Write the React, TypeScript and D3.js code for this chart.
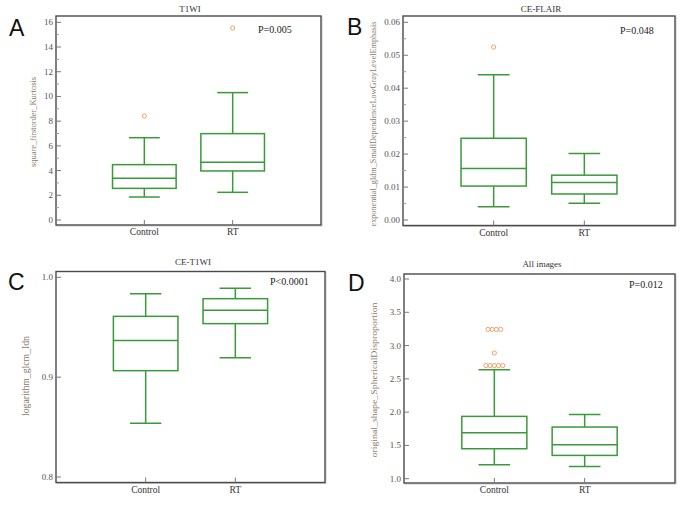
import React from "react";
import * as d3 from "d3";

// ---------- data ----------
const categories = ["Control", "RT"];

// [min whisker, Q1, median, Q3, max whisker]
const t1wiControl = [1.86, 2.56, 3.37, 4.48, 6.66];
const t1wiRT = [2.24, 3.97, 4.67, 6.99, 10.31];
const t1wiControlOutliers = [8.42];
const t1wiRTOutliers = [15.54];
const t1wiTicks = [0, 2, 4, 6, 8, 10, 12, 14, 16];
const t1wiMinor = [1, 3, 5, 7, 9, 11, 13, 15];

const flairControl = [0.0040, 0.0103, 0.0156, 0.0248, 0.0441];
const flairRT = [0.0051, 0.0079, 0.0114, 0.0136, 0.0202];
const flairControlOutliers = [0.0525];
const flairRTOutliers: number[] = [];
const flairTicks = [0, 0.01, 0.02, 0.03, 0.04, 0.05, 0.06];
const flairMinor = [0.005, 0.015, 0.025, 0.035, 0.045, 0.055];

const ceT1Control = [0.8538, 0.9065, 0.9366, 0.9609, 0.9836];
const ceT1RT = [0.9195, 0.9536, 0.9669, 0.9786, 0.989];
const ceT1ControlOutliers: number[] = [];
const ceT1RTOutliers: number[] = [];
const ceT1Ticks = [0.8, 0.9, 1.0];
const ceT1Minor: number[] = [];

const allControl = [1.21, 1.45, 1.69, 1.936, 2.637];
const allRT = [1.185, 1.35, 1.51, 1.776, 1.966];
const allControlOutliers = [2.7, 2.7, 2.7, 2.7, 2.7, 2.888, 3.243, 3.243, 3.243, 3.243];
const allRTOutliers: number[] = [];
const allTicks = [1.0, 1.5, 2.0, 2.5, 3.0, 3.5, 4.0];
const allMinor: number[] = [];

type PanelSpec = {
  letter: string;
  title: string;
  ylabel: string;
  ylabelLen: number;
  ylabelSize: number;
  p: string;
  fl: number; fr: number; ft: number; fb: number; // frame
  domain: [number, number];
  yr: [number, number];
  ticks: number[];
  minor: number[];
  fmt: (v: number) => string;
  boxes: number[][];
  outliers: number[][];
  titleX: number; titleY: number;
  pX: number; pY: number;
  labX: number; labY: number;
  letX: number; letY: number;
};

const panels: PanelSpec[] = [
  {
    letter: "A", title: "T1WI", ylabel: "square_firstorder_Kurtosis", ylabelLen: 90, ylabelSize: 8.5,
    p: "P=0.005", fl: 56, fr: 321, ft: 16, fb: 225, domain: [0, 16], yr: [220, 22.3],
    ticks: t1wiTicks, minor: t1wiMinor, fmt: d3.format("d"),
    boxes: [t1wiControl, t1wiRT], outliers: [t1wiControlOutliers, t1wiRTOutliers],
    titleX: 190, titleY: 12, pX: 258, pY: 33, labX: 36, labY: 122, letX: 9, letY: 36,
  },
  {
    letter: "B", title: "CE-FLAIR", ylabel: "exponential_gldm_SmallDependenceLowGrayLevelEmphasis", ylabelLen: 205, ylabelSize: 8.5,
    p: "P=0.048", fl: 403, fr: 675, ft: 16, fb: 225.5, domain: [0, 0.06], yr: [220, 22.3],
    ticks: flairTicks, minor: flairMinor, fmt: d3.format(".2f"),
    boxes: [flairControl, flairRT], outliers: [flairControlOutliers, flairRTOutliers],
    titleX: 541, titleY: 12, pX: 620, pY: 34, labX: 376, labY: 124, letX: 347, letY: 35,
  },
  {
    letter: "C", title: "CE-T1WI", ylabel: "logarithm_glcm_Idn", ylabelLen: 80, ylabelSize: 9.5,
    p: "P<0.0001", fl: 56, fr: 325, ft: 271.5, fb: 482.5, domain: [0.8, 1.0], yr: [477, 277.3],
    ticks: ceT1Ticks, minor: ceT1Minor, fmt: d3.format(".1f"),
    boxes: [ceT1Control, ceT1RT], outliers: [ceT1ControlOutliers, ceT1RTOutliers],
    titleX: 193, titleY: 265, pX: 270, pY: 285, labX: 29, labY: 376, letX: 8, letY: 290,
  },
  {
    letter: "D", title: "All images", ylabel: "original_shape_SphericalDisproportion", ylabelLen: 155, ylabelSize: 9,
    p: "P=0.012", fl: 404, fr: 675, ft: 274, fb: 483, domain: [1.0, 4.0], yr: [478.7, 279],
    ticks: allTicks, minor: allMinor, fmt: d3.format(".1f"),
    boxes: [allControl, allRT], outliers: [allControlOutliers, allRTOutliers],
    titleX: 542, titleY: 267, pX: 629, pY: 288, labX: 377, labY: 380, letX: 348, letY: 291,
  },
];

const GREEN = "#3a9a3a";
const ORANGE = "#f2a06a";
const FRAME = "#4a4a4a";
const SERIF = "'Liberation Serif', 'DejaVu Serif', serif";
const SANS = "'Liberation Sans', Arial, sans-serif";

function Panel({ s }: { s: PanelSpec }) {
  const x = d3.scaleLinear().domain([0, 3]).range([s.fl, s.fr]);
  const y = d3.scaleLinear().domain(s.domain).range(s.yr);
  const boxHalf = 0.36;
  const capHalf = 0.175;
  return (
    <g>
      <text x={s.letX} y={s.letY} fontFamily={SANS} fontSize={23} fill="#111">{s.letter}</text>
      <text x={s.titleX} y={s.titleY} textAnchor="middle" fontFamily={SERIF} fontSize={9} fill="#333">{s.title}</text>
      {/* frame shadow */}
      <rect x={s.fl + 1} y={s.ft + 1} width={s.fr - s.fl} height={s.fb - s.ft} fill="none" stroke="#ccc" strokeWidth={1} />
      <rect x={s.fl} y={s.ft} width={s.fr - s.fl} height={s.fb - s.ft} fill="#fff" stroke={FRAME} strokeWidth={1.4} />
      {s.ticks.map((t) => (
        <g key={"t" + t}>
          <line x1={s.fl} x2={s.fl + 5} y1={y(t)} y2={y(t)} stroke="#777" strokeWidth={1} />
          <text x={s.fl - 3} y={y(t) + 3} textAnchor="end" fontFamily={SERIF} fontSize={9} fill="#555">{s.fmt(t)}</text>
        </g>
      ))}
      {s.minor.map((t) => (
        <line key={"m" + t} x1={s.fl} x2={s.fl + 3} y1={y(t)} y2={y(t)} stroke="#999" strokeWidth={1} />
      ))}
      {categories.map((c, i) => (
        <g key={c}>
          <line x1={x(i + 1)} x2={x(i + 1)} y1={s.fb} y2={s.fb - 5} stroke="#777" strokeWidth={1} />
          <text x={x(i + 1)} y={s.fb + 10} textAnchor="middle" fontFamily={SERIF} fontSize={9.5} fill="#333">{c}</text>
        </g>
      ))}
      <text
        transform={`translate(${s.labX},${s.labY}) rotate(-90)`}
        textAnchor="middle"
        fontFamily={SERIF}
        fontSize={s.ylabelSize}
        fill="#8a7a68"
        textLength={s.ylabelLen}
        lengthAdjust="spacingAndGlyphs"
      >
        {s.ylabel}
      </text>
      <text x={s.pX} y={s.pY} fontFamily={SERIF} fontSize={10} fill="#222">{s.p}</text>
      {s.boxes.map((b, i) => {
        const cx = i + 1;
        const [mn, q1, md, q3, mx] = b;
        return (
          <g key={"b" + i} stroke={GREEN} strokeWidth={1.5} fill="none">
            <line x1={x(cx)} x2={x(cx)} y1={y(mn)} y2={y(q1)} />
            <line x1={x(cx)} x2={x(cx)} y1={y(q3)} y2={y(mx)} />
            <line x1={x(cx - capHalf)} x2={x(cx + capHalf)} y1={y(mn)} y2={y(mn)} />
            <line x1={x(cx - capHalf)} x2={x(cx + capHalf)} y1={y(mx)} y2={y(mx)} />
            <rect x={x(cx - boxHalf)} y={y(q3)} width={x(cx + boxHalf) - x(cx - boxHalf)} height={y(q1) - y(q3)} />
            <line x1={x(cx - boxHalf)} x2={x(cx + boxHalf)} y1={y(md)} y2={y(md)} />
          </g>
        );
      })}
      {s.outliers.map((os, i) => {
        const groups = d3.groups(os, (v) => v);
        return groups.map(([v, arr]) =>
          arr.map((_, k) => {
            const off = (k - (arr.length - 1) / 2) * 4.2;
            return (
              <circle key={`o${i}-${v}-${k}`} cx={x(i + 1) + off} cy={y(v)} r={2.1} fill="none" stroke={ORANGE} strokeWidth={1} />
            );
          })
        );
      })}
    </g>
  );
}

export default function App() {
  return (
    <svg width={685} height={506} style={{ position: "absolute", left: 0, top: 0, background: "#fff" }}>
      <rect width={685} height={506} fill="#fff" />
      {panels.map((p) => (
        <Panel key={p.letter} s={p} />
      ))}
    </svg>
  );
}
